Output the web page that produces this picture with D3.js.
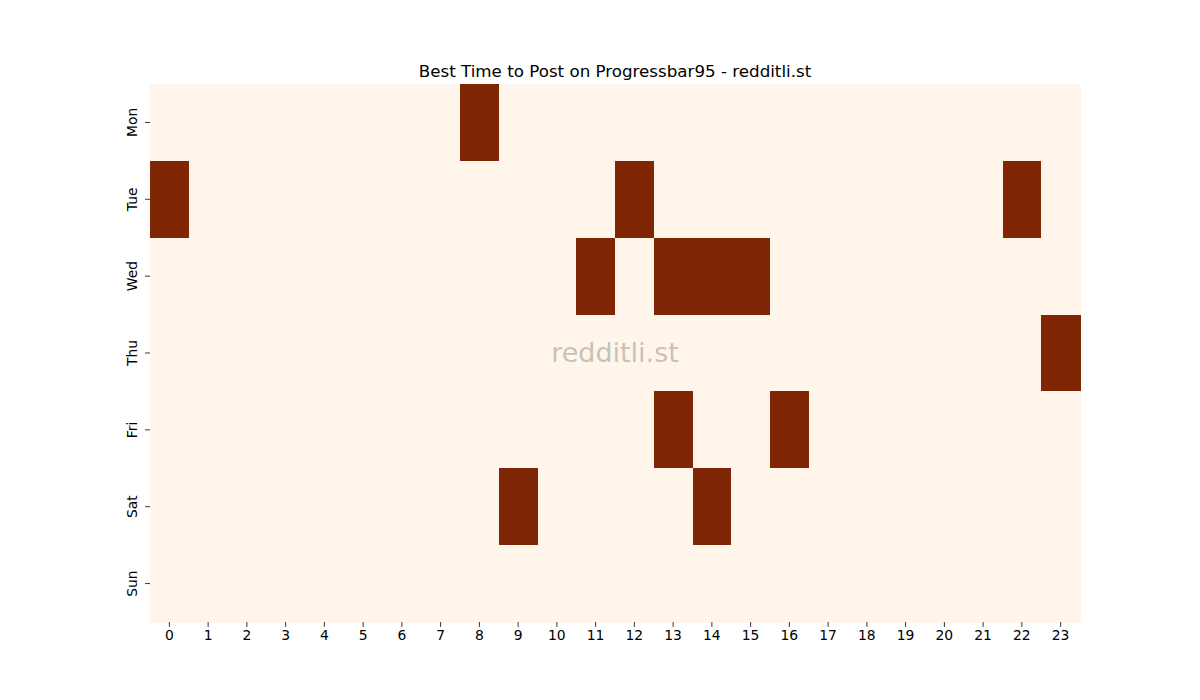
<!DOCTYPE html>
<html><head><meta charset="utf-8">
<script src="https://cdn.jsdelivr.net/npm/d3@7"></script>
<style>body{margin:0;background:#fff}svg{display:block}</style>
</head><body><svg id="c" width="1200" height="700"></svg>
<script>
const days = ["Mon","Tue","Wed","Thu","Fri","Sat","Sun"];
const hours = d3.range(24).map(String);
const monVals = [0,0,0,0,0,0,0,0,1,0,0,0,0,0,0,0,0,0,0,0,0,0,0,0];
const tueVals = [1,0,0,0,0,0,0,0,0,0,0,0,1,0,0,0,0,0,0,0,0,0,1,0];
const wedVals = [0,0,0,0,0,0,0,0,0,0,0,1,0,1,1,1,0,0,0,0,0,0,0,0];
const thuVals = [0,0,0,0,0,0,0,0,0,0,0,0,0,0,0,0,0,0,0,0,0,0,0,1];
const friVals = [0,0,0,0,0,0,0,0,0,0,0,0,0,1,0,0,1,0,0,0,0,0,0,0];
const satVals = [0,0,0,0,0,0,0,0,0,1,0,0,0,0,1,0,0,0,0,0,0,0,0,0];
const sunVals = [0,0,0,0,0,0,0,0,0,0,0,0,0,0,0,0,0,0,0,0,0,0,0,0];
const rows = [monVals,tueVals,wedVals,thuVals,friVals,satVals,sunVals];
const titleText = "Best Time to Post on Progressbar95 - redditli.st";
const watermark = "redditli.st";

const svg = d3.select("#c");
const font = "DejaVu Sans, sans-serif";
const L=150, R=1080, T=84, B=622;
const x = d3.scaleBand().domain(hours).range([L,R]).padding(0);
const y = d3.scaleBand().domain(days).range([T,B]).padding(0);
const color = d3.scaleLinear().domain([0,1]).range(["#fff5eb","#7f2704"]);

const cells = [];
rows.forEach((r,i)=>r.forEach((v,j)=>cells.push({day:days[i],hour:hours[j],v})));
svg.append("g").selectAll("rect").data(cells).join("rect")
  .attr("x",d=>x(d.hour)).attr("y",d=>y(d.day))
  .attr("width",x.bandwidth()+0.5).attr("height",y.bandwidth()+0.5)
  .attr("fill",d=>color(d.v)).attr("shape-rendering","crispEdges");

const xa = svg.append("g").attr("transform",`translate(0,${B})`)
  .call(d3.axisBottom(x).tickSize(4.9).tickPadding(3.5));
const ya = svg.append("g").attr("transform",`translate(${L},0)`)
  .call(d3.axisLeft(y).tickSize(4.9).tickPadding(3.5));
[xa,ya].forEach(a=>{a.select(".domain").remove();
  a.selectAll("line").attr("stroke","#000").attr("stroke-width",0.8);
  a.selectAll("text").attr("font-family",font).attr("font-size",13.9).attr("fill","#000");});
ya.selectAll("text").each(function(){
  d3.select(this).attr("text-anchor","middle").attr("x",0).attr("y",0)
    .attr("transform","translate(-17,0) rotate(-90)").attr("dy","0.32em");
});

svg.append("text").attr("x",(L+R)/2).attr("y",T-7).attr("text-anchor","middle")
  .attr("font-family",font).attr("font-size",16.7).attr("fill","#000").text(titleText);

svg.append("text").attr("x",(L+R)/2).attr("y",(T+B)/2).attr("dy","0.35em").attr("text-anchor","middle")
  .attr("font-family",font).attr("font-size",27).attr("fill","#808080").attr("fill-opacity",0.45).text(watermark);
</script></body></html>
